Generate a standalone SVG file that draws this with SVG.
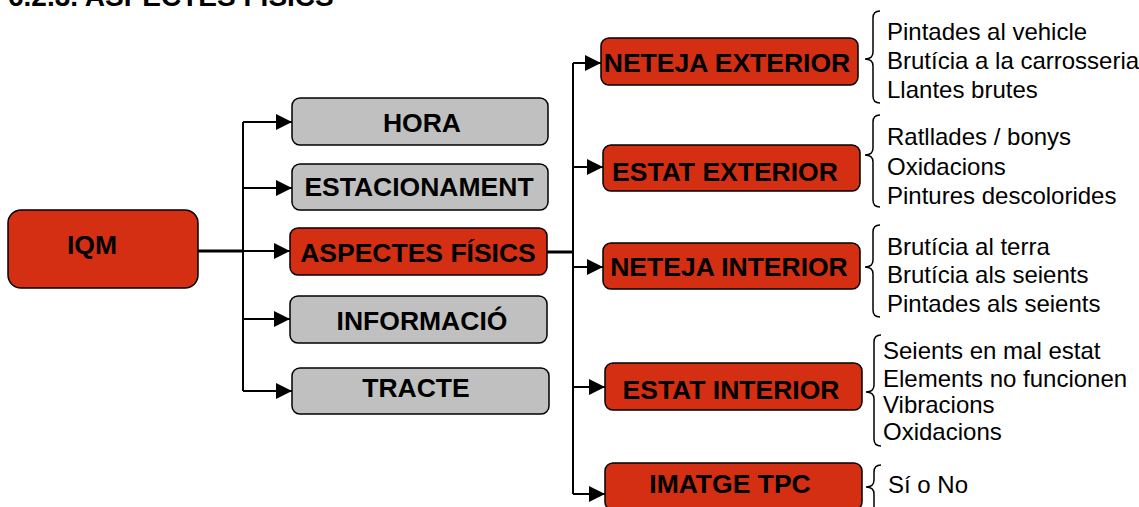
<svg xmlns="http://www.w3.org/2000/svg" width="1139" height="507" viewBox="0 0 1139 507">
<style>
.red{fill:#D42F12;stroke:#000;stroke-width:1.5}
.gray{fill:#C0C0C0;stroke:#000;stroke-width:1.5}
.lbl{font-family:"Liberation Sans",Arial,sans-serif;font-weight:bold;font-size:26.5px;fill:#000;text-anchor:middle}
.item{font-family:"Liberation Sans",Arial,sans-serif;font-size:24px;fill:#000}
.ln{stroke:#000;stroke-width:2;fill:none}
.thick{stroke:#000;stroke-width:3;fill:none}
.brace{stroke:#000;stroke-width:1.5;fill:none}
</style>
<defs>
<marker id="arr" markerUnits="userSpaceOnUse" markerWidth="17" markerHeight="17" refX="16" refY="8" orient="auto">
<path d="M0,0 L16,8 L0,16 Z" fill="#000"/>
</marker>
</defs>
<text x="8" y="6" font-family="Liberation Sans,Arial,sans-serif" font-weight="bold" font-size="28">6.2.3. ASPECTES FÍSICS</text>
<g id="connectors">
<path class="thick" d="M198,251 H243"/>
<path class="ln" d="M243,122 V391"/>
<path class="ln" d="M243,122 H292" marker-end="url(#arr)"/>
<path class="ln" d="M243,188 H292" marker-end="url(#arr)"/>
<path class="ln" d="M243,251 H290" marker-end="url(#arr)"/>
<path class="ln" d="M243,319 H290" marker-end="url(#arr)"/>
<path class="ln" d="M243,391 H292" marker-end="url(#arr)"/>
<path class="thick" d="M547,252 H573"/>
<path class="ln" d="M573,63 V494"/>
<path class="ln" d="M573,63 H601" marker-end="url(#arr)"/>
<path class="ln" d="M573,167 H603" marker-end="url(#arr)"/>
<path class="ln" d="M573,267 H603" marker-end="url(#arr)"/>
<path class="ln" d="M573,387 H605" marker-end="url(#arr)"/>
<path class="ln" d="M573,494 H605" marker-end="url(#arr)"/>
</g>
<g id="iqm"><rect class="red" x="8" y="210" width="190" height="78" rx="13"/><text class="lbl" x="92" y="254">IQM</text></g>
<g id="hora"><rect class="gray" x="292" y="98" width="256" height="47" rx="8"/><text class="lbl" x="422" y="132">HORA</text></g>
<g id="estacionament"><rect class="gray" x="292" y="164" width="256" height="46" rx="8"/><text class="lbl" x="419" y="196">ESTACIONAMENT</text></g>
<g id="aspectes"><rect class="red" x="290" y="228" width="257" height="47" rx="8"/><text class="lbl" x="418" y="262">ASPECTES FÍSICS</text></g>
<g id="informacio"><rect class="gray" x="290" y="296" width="257" height="47" rx="8"/><text class="lbl" x="422" y="330">INFORMACIÓ</text></g>
<g id="tracte"><rect class="gray" x="292" y="368" width="257" height="46" rx="8"/><text class="lbl" x="416" y="397">TRACTE</text></g>
<g id="neteja-exterior"><rect class="red" x="601" y="38" width="257" height="47" rx="8"/><text class="lbl" x="727" y="72">NETEJA EXTERIOR</text></g>
<g id="estat-exterior"><rect class="red" x="603" y="145" width="257" height="46" rx="8"/><text class="lbl" x="725" y="181">ESTAT EXTERIOR</text></g>
<g id="neteja-interior"><rect class="red" x="603" y="243" width="257" height="46" rx="8"/><text class="lbl" x="729" y="276">NETEJA INTERIOR</text></g>
<g id="estat-interior"><rect class="red" x="605" y="363" width="257" height="47" rx="8"/><text class="lbl" x="731" y="399">ESTAT INTERIOR</text></g>
<g id="imatge-tpc"><rect class="red" x="605" y="463" width="257" height="47" rx="8"/><text class="lbl" x="730" y="493">IMATGE TPC</text></g>
<g id="list-neteja-exterior">
<path class="brace" d="M880,11 Q873,11 873,18 V52 Q873,59 865,59 Q873,59 873,66 V96 Q873,103 880,103"/>
<text class="item" x="887" y="40">Pintades al vehicle</text>
<text class="item" x="887" y="69">Brutícia a la carrosseria</text>
<text class="item" x="887" y="98">Llantes brutes</text>
</g>
<g id="list-estat-exterior">
<path class="brace" d="M880,115 Q873,115 873,122 V148 Q873,155 865,155 Q873,155 873,162 V200 Q873,207 880,207"/>
<text class="item" x="887" y="145">Ratllades / bonys</text>
<text class="item" x="887" y="175">Oxidacions</text>
<text class="item" x="887" y="204">Pintures descolorides</text>
</g>
<g id="list-neteja-interior">
<path class="brace" d="M880,225 Q873,225 873,232 V260 Q873,267 865,267 Q873,267 873,274 V310 Q873,317 880,317"/>
<text class="item" x="887" y="255">Brutícia al terra</text>
<text class="item" x="887" y="283">Brutícia als seients</text>
<text class="item" x="887" y="312">Pintades als seients</text>
</g>
<g id="list-estat-interior">
<path class="brace" d="M881,335 Q874,335 874,342 V385 Q874,392 866,392 Q874,392 874,399 V439 Q874,446 881,446"/>
<text class="item" x="883" y="359">Seients en mal estat</text>
<text class="item" x="883" y="387">Elements no funcionen</text>
<text class="item" x="883" y="413">Vibracions</text>
<text class="item" x="883" y="440">Oxidacions</text>
</g>
<g id="list-imatge-tpc">
<path class="brace" d="M881,465 Q874,465 874,472 V480 Q874,487 866,487 Q874,487 874,494 V520"/>
<text class="item" x="888" y="493">Sí o No</text>
</g>
</svg>
